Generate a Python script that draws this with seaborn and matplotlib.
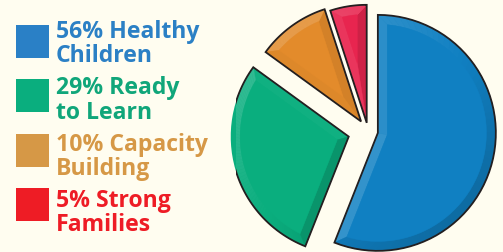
import numpy as np
import matplotlib
matplotlib.use("Agg")
import matplotlib.pyplot as plt
from matplotlib.patches import Polygon, Rectangle
from matplotlib.colors import to_rgb
import seaborn as sns

# data
labels_top = ["56% Healthy", "29% Ready", "10% Capacity", "5% Strong"]
labels_bottom = ["Children", "to Learn", "Building", "Families"]
shares = [56, 29, 10, 5]
explode = [0.085, 0.17, 0.10, 0.07]
pie_colors = ["#1080c2", "#0aae7e", "#e38b2b", "#e8254f"]
text_colors = ["#2b80c5", "#10a67a", "#d69846", "#ee1c25"]
square_colors = ["#2a80c6", "#0aae7e", "#d69846", "#ee1c25"]

BG = "#fffdf0"
W, H = 503, 252

sns.set_theme(style="white")
plt.rcParams["font.family"] = ["Open Sans", "DejaVu Sans"]

fig = plt.figure(figsize=(W / 100, H / 100), dpi=100, facecolor=BG)

# --- pie -----------------------------------------------------------------
R_PX = 118
cx, cy = 368, 131
half = 132
ax = fig.add_axes([(cx - half) / W, (H - cy - half) / H, 2 * half / W, 2 * half / H])
ax.set_facecolor(BG)

wedges, _ = ax.pie(shares, explode=explode, colors=pie_colors, startangle=90,
                   counterclock=False, radius=1.0,
                   wedgeprops=dict(linewidth=0))
# pie() resets the limits, so set them afterwards
lim = half / R_PX
ax.set_xlim(-lim, lim)
ax.set_ylim(-lim, lim)
ax.axis("off")


def shade(base, s):
    base = np.array(to_rgb(base))
    if s >= 0:
        return base + (1 - base) * 0.16 * s
    return base * (1 - 0.16 * (-s))


# bevel: light from the upper left, each rim face shaded by its normal
light_ang = np.deg2rad(135)
bevel = 0.08
for wdg, col in zip(wedges, pie_colors):
    A = np.array(wdg.center)
    r = wdg.r
    t1, t2 = np.deg2rad(wdg.theta1), np.deg2rad(wdg.theta2)
    mid = (t1 + t2) / 2
    half_ang = (t2 - t1) / 2
    A2 = A + bevel / np.sin(half_ang) * np.array([np.cos(mid), np.sin(mid)])
    rin = r - bevel
    d = np.arcsin(bevel / rin)
    n = 60
    ts = np.linspace(t1, t2, n)
    tis = np.linspace(t1 + d, t2 - d, n)
    P = A + r * np.column_stack([np.cos(ts), np.sin(ts)])
    Q = A + rin * np.column_stack([np.cos(tis), np.sin(tis)])
    faces = []
    faces.append(([A, P[0], Q[0], A2], t1 - np.pi / 2))
    for k in range(n - 1):
        faces.append(([P[k], P[k + 1], Q[k + 1], Q[k]], (ts[k] + ts[k + 1]) / 2))
    faces.append(([P[-1], A, A2, Q[-1]], t2 + np.pi / 2))
    for pts, nrm in faces:
        s = np.cos(nrm - light_ang)
        c = shade(col, s)
        ax.add_patch(Polygon(pts, closed=True, facecolor=c, edgecolor=c,
                             linewidth=0.3, zorder=2))
    inner = np.vstack([A2, Q])
    ax.add_patch(Polygon(inner, closed=True, facecolor=col, edgecolor=col,
                         linewidth=0.3, zorder=3))
    outline = np.vstack([A, P])
    ax.add_patch(Polygon(outline, closed=True, facecolor="none",
                         edgecolor="#231f20", linewidth=1.3, zorder=4,
                         joinstyle="miter"))

# --- legend ---------------------------------------------------------------
for i in range(4):
    sq_top = 25 + 54.3 * i
    fig.patches.append(Rectangle((16 / W, 1 - (sq_top + 33) / H), 33 / W, 33 / H,
                                 transform=fig.transFigure, facecolor=square_colors[i],
                                 edgecolor="none"))
    base1 = 38 + 56.3 * i
    fig.text(56 / W, 1 - base1 / H, labels_top[i], color=text_colors[i],
             fontsize=16.6, fontweight="bold", va="baseline", ha="left")
    fig.text(56 / W, 1 - (base1 + 24.3) / H, labels_bottom[i], color=text_colors[i],
             fontsize=16.6, fontweight="bold", va="baseline", ha="left")

fig.savefig("out.png", dpi=100, facecolor=BG)
